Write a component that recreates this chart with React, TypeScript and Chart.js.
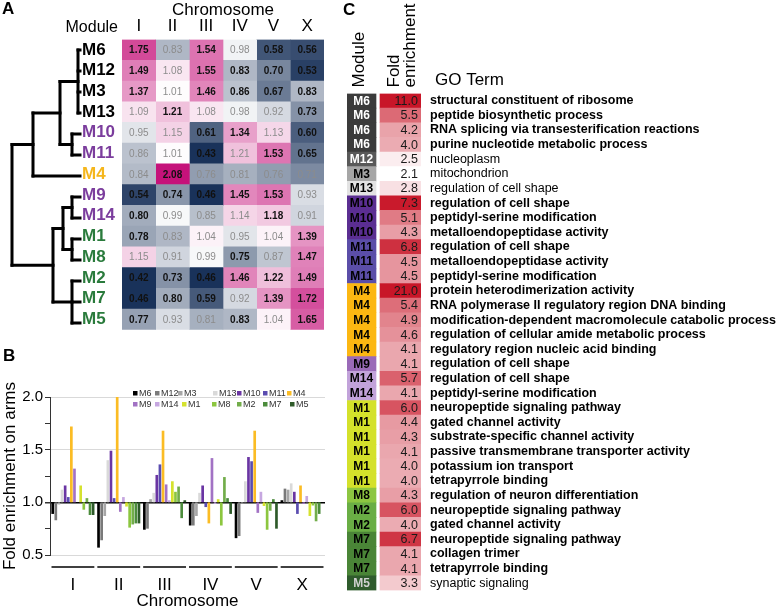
import React, { useEffect, useRef } from 'react';
import { Chart, registerables } from 'chart.js';

Chart.register(...registerables);

const FONT = "'Liberation Sans', Arial, Helvetica, sans-serif";
Chart.defaults.font.family = FONT;

// ---------------- Panel A : heatmap ----------------
const modules = ['M6', 'M12', 'M3', 'M13', 'M10', 'M11', 'M4', 'M9', 'M14', 'M1', 'M8', 'M2', 'M7', 'M5'];
const chromosomes = ['I', 'II', 'III', 'IV', 'V', 'X'];

const chrI = [1.75, 1.49, 1.37, 1.09, 0.95, 0.86, 0.84, 0.54, 0.80, 0.78, 1.15, 0.42, 0.46, 0.77];
const chrII = [0.83, 1.08, 1.01, 1.21, 1.15, 1.01, 2.08, 0.74, 0.99, 0.83, 0.91, 0.73, 0.80, 0.93];
const chrIII = [1.54, 1.55, 1.46, 1.08, 0.61, 0.43, 0.76, 0.46, 0.85, 1.04, 0.99, 0.46, 0.59, 0.81];
const chrIV = [0.98, 0.83, 0.86, 0.98, 1.34, 1.21, 0.81, 1.45, 1.14, 0.95, 0.75, 1.46, 0.92, 0.83];
const chrV = [0.58, 0.70, 0.67, 0.92, 1.13, 1.53, 0.76, 1.53, 1.18, 1.04, 0.87, 1.22, 1.39, 1.04];
const chrX = [0.56, 0.53, 0.83, 0.73, 0.60, 0.65, 0.71, 0.93, 0.91, 1.39, 1.47, 1.49, 1.72, 1.65];
const heatValues = [chrI, chrII, chrIII, chrIV, chrV, chrX];

// 1 = significant (bold black label), 0 = grey label
const sigI = [1, 1, 1, 0, 0, 0, 0, 1, 1, 1, 0, 1, 1, 1];
const sigII = [0, 0, 0, 1, 0, 0, 1, 1, 0, 0, 0, 1, 1, 0];
const sigIII = [1, 1, 1, 0, 1, 1, 0, 1, 0, 0, 0, 1, 1, 0];
const sigIV = [0, 1, 1, 0, 1, 0, 0, 1, 0, 0, 1, 1, 0, 1];
const sigV = [1, 1, 1, 0, 0, 1, 0, 1, 1, 0, 0, 1, 1, 0];
const sigX = [1, 1, 1, 1, 1, 1, 0, 0, 0, 1, 1, 1, 1, 1];
const heatSig = [sigI, sigII, sigIII, sigIV, sigV, sigX];

const moduleLabelColors = [
  '#000000', '#000000', '#000000', '#000000', '#7b3d9d', '#7b3d9d', '#f5b61c',
  '#7b3d9d', '#7b3d9d', '#2a7b3c', '#2a7b3c', '#2a7b3c', '#2a7b3c', '#2a7b3c',
];

// dendrogram merges: [children, merge distance]
const dendroLinks: [string[], number][] = [
  [['M6', 'M12', 'M3', 'M13'], 2],
  [['M10', 'M11'], 8],
  [['#0', '#1'], 20],
  [['#2', 'M4'], 47],
  [['M9', 'M14'], 8],
  [['M1', 'M8'], 8],
  [['#4', '#5'], 17],
  [['M2', 'M7', 'M5'], 8],
  [['#6', '#7'], 27],
  [['#3', '#8'], 68],
];

// ---------------- Panel B : arm enrichment bars ----------------
const armLabels = chromosomes;
const armM6 = [0.89, 0.57, 0.74, 0.78, 0.66, 1.02];
const armM12 = [0.83, 0.64, 0.75, 0.78, 0.68, 1.13];
const armM3 = [0.98, 0.87, 1.03, 0.87, 0.99, 1.12];
const armM13 = [1.12, 1.40, 1.09, 1.09, 1.20, 1.18];
const armM10 = [1.16, 1.49, 1.26, 1.16, 1.43, 1.10];
const armM11 = [1.05, 1.04, 1.36, 0.955, 1.39, 0.89];
const armM4 = [1.72, 2.0, 1.68, 0.80, 1.68, 1.16];
const armM9 = [1.32, 0.91, 1.17, 1.42, 0.90, 0.985];
const armM14 = [1.0, 1.05, 1.02, 0.985, 1.10, 1.06];
const armM1 = [1.16, 0.96, 1.20, 1.03, 0.965, 0.87];
const armM8 = [0.93, 0.76, 1.10, 0.78, 0.74, 0.97];
const armM2 = [1.04, 0.79, 1.15, 1.24, 0.92, 0.82];
const armM7 = [0.88, 0.80, 0.85, 1.04, 1.03, 0.89];
const armM5 = [0.88, 0.80, 1.02, 0.89, 0.75, 1.0];
const armValues = [armM6, armM12, armM3, armM13, armM10, armM11, armM4, armM9, armM14, armM1, armM8, armM2, armM7, armM5];
const barColors = [
  '#000000', '#7a7a7a', '#a6a6a6', '#d9d9d9', '#6a35a3', '#5a4cb0', '#fbbc24',
  '#a272c4', '#c6a7e0', '#d5e22e', '#8cc63f', '#72ad4a', '#4c8c3c', '#2e5a2a',
];
const yTickLabels = [0.5, 1.0, 1.5, 2.0];

// ---------------- Panel C : GO table ----------------
const goModules = ['M6', 'M6', 'M6', 'M6', 'M12', 'M3', 'M13', 'M10', 'M10', 'M10', 'M11', 'M11', 'M11',
  'M4', 'M4', 'M4', 'M4', 'M4', 'M9', 'M14', 'M14', 'M1', 'M1', 'M1', 'M1', 'M1', 'M1', 'M8', 'M2', 'M2',
  'M7', 'M7', 'M7', 'M5'];
const goFold = [11.0, 5.5, 4.2, 4.0, 2.5, 2.1, 2.8, 7.3, 5.1, 4.3, 6.8, 4.5, 4.5, 21.0, 5.4, 4.9, 4.6, 4.1,
  4.1, 5.7, 4.1, 6.0, 4.4, 4.3, 4.1, 4.0, 4.0, 4.3, 6.0, 4.0, 6.7, 4.1, 4.1, 3.3];
const goTerms = [
  'structural constituent of ribosome',
  'peptide biosynthetic process',
  'RNA splicing via transesterification reactions',
  'purine nucleotide metabolic process',
  'nucleoplasm',
  'mitochondrion',
  'regulation of cell shape',
  'regulation of cell shape',
  'peptidyl-serine modification',
  'metalloendopeptidase activity',
  'regulation of cell shape',
  'metalloendopeptidase activity',
  'peptidyl-serine modification',
  'protein heterodimerization activity',
  'RNA polymerase II regulatory region DNA binding',
  'modification-dependent macromolecule catabolic process',
  'regulation of cellular amide metabolic process',
  'regulatory region nucleic acid binding',
  'regulation of cell shape',
  'regulation of cell shape',
  'peptidyl-serine modification',
  'neuropeptide signaling pathway',
  'gated channel activity',
  'substrate-specific channel activity',
  'passive transmembrane transporter activity',
  'potassium ion transport',
  'tetrapyrrole binding',
  'regulation of neuron differentiation',
  'neuropeptide signaling pathway',
  'gated channel activity',
  'neuropeptide signaling pathway',
  'collagen trimer',
  'tetrapyrrole binding',
  'synaptic signaling',
];
const goBold = [1, 1, 1, 1, 0, 0, 0, 1, 1, 1, 1, 1, 1, 1, 1, 1, 1, 1, 1, 1, 1, 1, 1, 1, 1, 1, 1, 1, 1, 1, 1, 1, 1, 0];
const moduleCellColors = [
  '#3b3b3b', '#595959', '#a6a6a6', '#e3e3e3', '#5b2e92', '#5b4ea8', '#fcb712',
  '#9a6ab8', '#c2a3da', '#d4e12b', '#8dc641', '#6aae45', '#4a8537', '#2f5b2c',
];
const moduleTextColors = [
  '#ffffff', '#ffffff', '#000000', '#000000', '#000000', '#000000', '#000000',
  '#000000', '#000000', '#000000', '#000000', '#000000', '#000000', '#d0d0d0',
];

// ---------------- helpers ----------------
function mix(a: number[], b: number[], t: number) {
  const c = a.map((v, i) => Math.round(v + (b[i] - v) * t));
  return `rgb(${c[0]},${c[1]},${c[2]})`;
}
function heatColor(v: number) {
  const white = [255, 255, 255];
  if (v < 1) {
    const t = Math.pow(Math.min(1, -Math.log2(v)), 0.8);
    return mix(white, [25, 50, 90], t);
  }
  const t = Math.min(1, Math.log2(v) / Math.log2(2.08));
  return mix(white, [197, 18, 122], t);
}
function foldColor(v: number) {
  const t = Math.max(0, Math.min(1, (v - 2.1) / (7.4 - 2.1)));
  return mix([255, 255, 255], [200, 22, 40], t);
}

function dendroSegments() {
  const pos: Record<string, { y: number; h: number }> = {};
  modules.forEach((m, i) => (pos[m] = { y: i, h: 0 }));
  const segs: { x: number; y: number }[][] = [];
  dendroLinks.forEach(([kids, h], k) => {
    const ps = kids.map((n) => pos[n]);
    const ys = ps.map((p) => p.y);
    const y0 = Math.min(...ys);
    const y1 = Math.max(...ys);
    segs.push([{ x: h, y: y0 }, { x: h, y: y1 }]);
    ps.forEach((p) => segs.push([{ x: p.h, y: p.y }, { x: h, y: p.y }]));
    pos['#' + k] = { y: (y0 + y1) / 2, h };
  });
  return segs;
}

const noPlugins = { legend: { display: false }, tooltip: { enabled: false } };

function makeHeatmap(canvas: HTMLCanvasElement) {
  const heatLabels = {
    id: 'heatLabels',
    afterDatasetsDraw(chart: any) {
      const ctx = chart.ctx;
      ctx.save();
      ctx.textAlign = 'center';
      ctx.textBaseline = 'middle';
      chart.data.datasets.forEach((_: any, di: number) => {
        chart.getDatasetMeta(di).data.forEach((el: any, ri: number) => {
          const p = el.getCenterPoint();
          const b = heatSig[di][ri];
          ctx.font = `${b ? 'bold ' : ''}10px ${FONT}`;
          ctx.fillStyle = b ? '#111111' : '#8c8c8c';
          ctx.fillText(heatValues[di][ri].toFixed(2), p.x, p.y + 0.5);
        });
      });
      ctx.font = `16px ${FONT}`;
      ctx.fillStyle = '#000';
      ctx.textAlign = 'right';
      ctx.fillText('Module', chart.chartArea.left - 4, 28);
      ctx.restore();
    },
  };
  return new Chart(canvas, {
    type: 'bar',
    data: {
      labels: modules,
      datasets: chromosomes.map((c, ci) => ({
        label: c,
        data: modules.map(() => [ci, ci + 1]),
        backgroundColor: heatValues[ci].map(heatColor),
        borderWidth: 0,
        categoryPercentage: 1,
        barPercentage: 1,
        grouped: false,
      })),
    } as any,
    options: {
      indexAxis: 'y',
      responsive: false,
      animation: false,
      layout: { padding: { left: 82, right: 16, top: 0, bottom: 6.5 } },
      plugins: noPlugins as any,
      scales: {
        x: {
          type: 'linear',
          position: 'top',
          min: 0,
          max: 6,
          grid: { display: false, drawTicks: false },
          border: { display: false },
          afterBuildTicks: (s: any) => {
            s.ticks = chromosomes.map((_, i) => ({ value: i + 0.5 }));
          },
          ticks: {
            callback: (v: any) => chromosomes[Math.floor(Number(v))],
            font: { family: FONT, size: 17 },
            color: '#000',
            padding: 3,
            autoSkip: false,
            maxRotation: 0,
          },
          title: { display: true, text: 'Chromosome', font: { family: FONT, size: 17 }, color: '#000', padding: { top: 0, bottom: 0 } },
          afterFit: (s: any) => {
            s.height = 39.5;
          },
        },
        y: {
          type: 'category',
          grid: { display: false, drawTicks: false },
          border: { display: false },
          ticks: {
            color: (ctx: any) => moduleLabelColors[ctx.index],
            font: { family: FONT, size: 17, weight: 'bold' },
            crossAlign: 'far',
            padding: 0,
            autoSkip: false,
          },
          afterFit: (s: any) => {
            s.width = 40;
          },
        },
      } as any,
    },
    plugins: [heatLabels],
  });
}

function makeDendro(canvas: HTMLCanvasElement) {
  return new Chart(canvas, {
    type: 'scatter',
    data: {
      datasets: dendroSegments().map((seg) => ({
        data: seg,
        showLine: true,
        borderColor: '#000',
        borderWidth: 3,
        pointRadius: 0,
        borderCapStyle: 'square',
        clip: false,
      })),
    } as any,
    options: {
      responsive: false,
      animation: false,
      layout: { padding: { left: 12, right: 4, top: 39.5, bottom: 6.5 } },
      plugins: noPlugins as any,
      scales: {
        x: { type: 'linear', display: false, min: 0, max: 68, reverse: true },
        y: { type: 'linear', display: false, min: -0.5, max: 13.5, reverse: true },
      },
    },
  });
}

function makeBars(canvas: HTMLCanvasElement) {
  // legend item offsets from the left of the plot area, one list per legend row
  const legendRow1 = [83, 105, 128, 163, 187, 213, 237];
  const legendRow2 = [83, 105, 132, 162, 187, 213, 240];
  const extras = {
    id: 'barExtras',
    afterDraw(chart: any) {
      const { ctx, chartArea: ca } = chart;
      ctx.save();
      ctx.font = `9px ${FONT}`;
      ctx.textBaseline = 'middle';
      ctx.textAlign = 'left';
      chart.data.datasets.forEach((ds: any, i: number) => {
        const row = Math.floor(i / 7);
        const col = i % 7;
        const x = ca.left + (row === 0 ? legendRow1 : legendRow2)[col];
        const y = ca.top - 4 + row * 11;
        ctx.fillStyle = ds.backgroundColor;
        ctx.fillRect(x, y - 2, 4.5, 4.5);
        ctx.fillStyle = '#333';
        ctx.fillText(ds.label, x + 6, y + 0.5);
      });
      const xs = chart.scales.x;
      const half = (ca.right - ca.left) / armLabels.length / 2;
      ctx.strokeStyle = '#404040';
      ctx.lineWidth = 2;
      armLabels.forEach((_, i) => {
        const c = xs.getPixelForValue(i);
        ctx.beginPath();
        ctx.moveTo(c - half + 1.5, ca.bottom + 12);
        ctx.lineTo(c + half - 1.5, ca.bottom + 12);
        ctx.stroke();
      });
      ctx.restore();
    },
  };
  return new Chart(canvas, {
    type: 'bar',
    data: {
      labels: armLabels,
      datasets: modules.map((m, i) => ({
        label: m,
        data: armValues[i].map((v) => [1, v]),
        backgroundColor: barColors[i],
        borderWidth: 0,
        categoryPercentage: 0.95,
        barPercentage: 0.86,
      })),
    } as any,
    options: {
      responsive: false,
      animation: false,
      layout: { padding: { left: 0, right: 15, top: 57, bottom: 0 } },
      plugins: noPlugins as any,
      scales: {
        x: {
          grid: { display: false, drawTicks: false },
          border: { display: false },
          ticks: { font: { family: FONT, size: 17 }, color: '#000', padding: 20 },
          title: {
            display: true,
            text: 'Chromosome',
            font: { family: FONT, size: 17, lineHeight: 1 },
            color: '#000',
            padding: { top: 0, bottom: -3 },
          },
          afterFit: (s: any) => {
            s.height = 52;
          },
        },
        y: {
          min: 0.5,
          max: 2.0,
          ticks: {
            stepSize: 0.25,
            autoSkip: false,
            callback: (v: any) => (yTickLabels.includes(Number(v)) ? Number(v).toFixed(1) : ''),
            font: { family: FONT, size: 15 },
            color: '#000',
            padding: 2,
          },
          grid: {
            color: (ctx: any) => {
              const v = ctx.tick ? ctx.tick.value : 0;
              if (v === 1) return '#000000';
              if (yTickLabels.includes(v)) return '#d9d9d9';
              return 'rgba(0,0,0,0)';
            },
            lineWidth: (ctx: any) => (ctx.tick && ctx.tick.value === 1 ? 1.5 : 1),
            tickColor: '#333',
            tickLength: 5,
          },
          border: { display: true, color: '#333', width: 1 },
          title: { display: true, text: 'Fold enrichment on arms', font: { family: FONT, size: 17 }, color: '#000', padding: { top: 0, bottom: 0 } },
          afterFit: (s: any) => {
            s.width = 50;
          },
        },
      } as any,
    },
    plugins: [extras],
  });
}

function makeTable(canvas: HTMLCanvasElement) {
  const tableLabels = {
    id: 'tableLabels',
    afterDatasetsDraw(chart: any) {
      const { ctx, chartArea: ca } = chart;
      ctx.save();
      ctx.textBaseline = 'middle';
      chart.getDatasetMeta(0).data.forEach((el: any, i: number) => {
        const p = el.getCenterPoint();
        const idx = modules.indexOf(goModules[i]);
        ctx.font = `bold 12px ${FONT}`;
        ctx.fillStyle = moduleTextColors[idx];
        ctx.textAlign = 'center';
        ctx.fillText(goModules[i], p.x, p.y + 0.5);
      });
      chart.getDatasetMeta(1).data.forEach((el: any, i: number) => {
        const p = el.getProps(['x', 'y', 'base'], true);
        const right = Math.max(p.x, p.base);
        ctx.font = `12.5px ${FONT}`;
        ctx.fillStyle = '#1a1a1a';
        ctx.textAlign = 'right';
        ctx.fillText(goFold[i].toFixed(1), right - 3, p.y + 0.5);
      });
      const xs = chart.scales.x;
      const modCenter = (xs.getPixelForValue(0) + xs.getPixelForValue(29)) / 2;
      const foldCenter = (xs.getPixelForValue(33) + xs.getPixelForValue(74)) / 2;
      const bottom = ca.top - 6;
      ctx.fillStyle = '#000';
      ctx.font = `17px ${FONT}`;
      ctx.textAlign = 'left';
      const vtext = (t: string, x: number) => {
        ctx.save();
        ctx.translate(x, bottom);
        ctx.rotate(-Math.PI / 2);
        ctx.fillText(t, 0, 0);
        ctx.restore();
      };
      vtext('Module', modCenter - 2);
      vtext('Fold', foldCenter - 6);
      vtext('enrichment', foldCenter + 10);
      ctx.fillText('GO Term', ca.right + 14, ca.top - 13);
      ctx.restore();
    },
  };
  return new Chart(canvas, {
    type: 'bar',
    data: {
      labels: goTerms,
      datasets: [
        {
          data: goModules.map(() => [0, 29]),
          backgroundColor: goModules.map((m) => moduleCellColors[modules.indexOf(m)]),
          borderWidth: 0,
          categoryPercentage: 1,
          barPercentage: 1,
          grouped: false,
        },
        {
          data: goFold.map(() => [33, 74]),
          backgroundColor: goFold.map(foldColor),
          borderWidth: 0,
          categoryPercentage: 1,
          barPercentage: 1,
          grouped: false,
        },
      ],
    } as any,
    options: {
      indexAxis: 'y',
      responsive: false,
      animation: false,
      layout: { padding: { left: 7, right: 0, top: 93.5, bottom: 2.5 } },
      plugins: noPlugins as any,
      scales: {
        x: { type: 'linear', display: false, min: 0, max: 74 },
        y: {
          type: 'category',
          position: 'right',
          grid: { display: false, drawTicks: false },
          border: { display: false },
          ticks: {
            autoSkip: false,
            color: '#000',
            crossAlign: 'near',
            padding: 9,
            font: (ctx: any) => ({ family: FONT, size: 12.5, weight: goBold[ctx.index] ? 'bold' : 'normal' }),
          },
          afterFit: (s: any) => {
            s.width = 361;
          },
        },
      } as any,
    },
    plugins: [tableLabels],
  });
}

const letter: React.CSSProperties = {
  position: 'absolute',
  fontFamily: FONT,
  fontWeight: 'bold',
  fontSize: 17,
  lineHeight: '17px',
  color: '#000',
};

export default function App() {
  const aRef = useRef<HTMLCanvasElement>(null);
  const dRef = useRef<HTMLCanvasElement>(null);
  const bRef = useRef<HTMLCanvasElement>(null);
  const cRef = useRef<HTMLCanvasElement>(null);

  useEffect(() => {
    const charts = [
      makeHeatmap(aRef.current!),
      makeDendro(dRef.current!),
      makeBars(bRef.current!),
      makeTable(cRef.current!),
    ];
    return () => charts.forEach((c) => c.destroy());
  }, []);

  return (
    <div style={{ position: 'absolute', left: 0, top: 0, width: 782, height: 607, background: '#fff', overflow: 'hidden' }}>
      <canvas ref={aRef} width={340} height={340} style={{ position: 'absolute', left: 0, top: 0, width: 340, height: 340 }} />
      <canvas ref={dRef} width={84} height={340} style={{ position: 'absolute', left: 0, top: 0, width: 84, height: 340 }} />
      <canvas ref={bRef} width={340} height={267} style={{ position: 'absolute', left: 0, top: 340, width: 340, height: 267 }} />
      <canvas ref={cRef} width={442} height={607} style={{ position: 'absolute', left: 340, top: 0, width: 442, height: 607 }} />
      <div style={{ ...letter, left: 2, top: 0 }}>A</div>
      <div style={{ ...letter, left: 3, top: 347 }}>B</div>
      <div style={{ ...letter, left: 343, top: 1 }}>C</div>
    </div>
  );
}
